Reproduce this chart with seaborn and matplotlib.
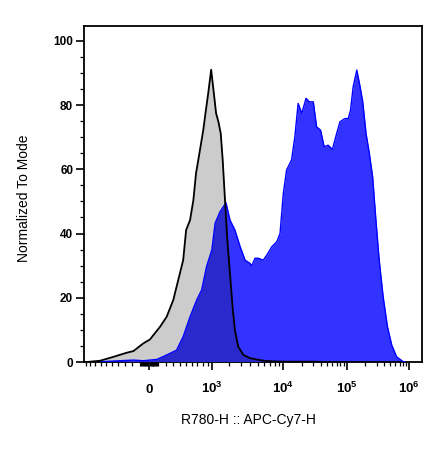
import numpy as np
import seaborn as sns
import matplotlib
matplotlib.use('Agg')
import matplotlib.pyplot as plt
from matplotlib.ticker import FixedLocator, FixedFormatter


## DATA  (x in display channels, 0-1024 across the plot; y normalized to mode)
ctrl_channel = [7, 48, 88, 129, 149, 179, 199, 230, 250, 270, 285, 300, 309, 321,
                331, 339, 351, 361, 369, 376, 385, 392, 400, 407, 414, 420, 427,
                434, 442, 450, 457, 467, 483, 503, 533, 554, 604, 705, 720]
ctrl_mode = [0, 0.4, 1.6, 2.9, 3.4, 5.8, 7.0, 11.0, 14.1, 19.3, 25.5, 31.7, 41.1, 44.2,
             50.4, 58.7, 66.0, 72.2, 78.4, 83.6, 91.0, 84.7, 77.4, 74.8, 71.2, 62.9, 50.4,
             38.0, 27.6, 17.2, 10.0, 4.8, 2.2, 1.2, 0.6, 0.3, 0.1, 0.1, 0]

stain_channel = [48, 68, 149, 179, 220, 250, 280, 300, 321, 341, 356, 371, 387, 397,
                 412, 430, 442, 457, 473, 488, 503, 508, 518, 528, 543, 554, 569, 584,
                 594, 604, 614, 629, 639, 649, 660, 673, 683, 695, 705, 717, 728, 740,
                 753, 766, 776, 791, 801, 808, 816, 827, 837, 845, 855, 865, 875, 885,
                 895, 907, 920, 933, 948, 968, 975]
stain_mode = [0, 0.2, 0.6, 0.4, 0.8, 2.2, 3.7, 7.9, 14.1, 19.3, 22.4, 29.7, 34.9, 43.2,
              46.8, 49.6, 44.2, 41.1, 35.9, 31.7, 30.7, 29.9, 32.3, 32.3, 31.7, 33.3, 35.9, 37.4,
              40.0, 52.5, 59.8, 62.9, 70.1, 80.5, 77.4, 82.1, 81.0, 81.0, 73.2, 72.2, 67.0, 67.5,
              66.2, 71.2, 74.8, 75.8, 75.8, 78.4, 85.7, 90.9, 85.7, 81.0, 71.2, 65.0, 57.7, 44.2,
              31.7, 20.3, 11.0, 5.3, 1.6, 0.1, 0]

## BIEX AXIS CALIBRATION (value -> display channel)
calib_values = [-1e4, -1e3, 0, 1e3, 1e4, 1e5, 1e6, 1e7]
calib_channels = [-211, 4.3, 196.4, 388.5, 604, 796.4, 986.4, 1176]

major_values = [0, 1e3, 1e4, 1e5, 1e6]
major_labels = [r'$\mathbf{0}$', r'$\mathbf{10^3}$', r'$\mathbf{10^4}$',
                r'$\mathbf{10^5}$', r'$\mathbf{10^6}$']
minor_values = ([-1000] + [-v for v in range(100, 1000, 100)] + [-v for v in range(10, 100, 10)]
                + list(range(10, 100, 10)) + list(range(100, 1000, 100))
                + [m * 10 ** k for k in (3, 4, 5) for m in range(2, 10)])


def biex(v):
    s = lambda a: np.sign(a) * np.log10(1 + np.abs(a) / 1000.)
    return np.interp(s(np.asarray(v, float)), s(np.asarray(calib_values)), calib_channels)


## SET STYLE
sns.set_style('ticks', rc={'axes.edgecolor': 'black', 'xtick.color': 'black',
                           'ytick.color': 'black', 'text.color': 'black',
                           'axes.labelcolor': 'black'})
plt.rcParams['font.family'] = ['Liberation Sans', 'DejaVu Sans']
plt.rcParams['mathtext.fontset'] = 'custom'
plt.rcParams['mathtext.rm'] = 'Liberation Sans'
plt.rcParams['mathtext.bf'] = 'Liberation Sans:bold'

fig = plt.figure(figsize=(4.38, 4.54), dpi=100)
ax = fig.add_axes([0.1925, 0.2026, 0.7703, 0.7408])

## FILLS
gray_fill = ax.fill_between(ctrl_channel, ctrl_mode, 0, color='#cccccc', lw=0, zorder=1)
ax.fill_between(stain_channel, stain_mode, 0, color='#3333ff', lw=0, zorder=2)
overlap = ax.fill_between(stain_channel, stain_mode, 0, color='#2929cc', lw=0, zorder=3)
overlap.set_clip_path(gray_fill.get_paths()[0], ax.transData)

## OUTLINES
sns.lineplot(x=stain_channel, y=stain_mode, color='#0000ff', lw=1.0, ax=ax,
             sort=False, estimator=None, zorder=4)
sns.lineplot(x=ctrl_channel, y=ctrl_mode, color='black', lw=1.3, ax=ax,
             sort=False, estimator=None, zorder=5)

ax.set_xlim(0, 1024)
ax.set_ylim(0, 104.7)

ax.xaxis.set_major_locator(FixedLocator(biex(major_values)))
ax.xaxis.set_major_formatter(FixedFormatter(major_labels))
ax.xaxis.set_minor_locator(FixedLocator(biex(minor_values)))
ax.yaxis.set_major_locator(FixedLocator([0, 20, 40, 60, 80, 100]))
ax.yaxis.set_minor_locator(FixedLocator(np.arange(5, 100, 5)))

for s in ax.spines.values():
    s.set_linewidth(1.3)
ax.tick_params(axis='both', which='major', length=6, width=1.2, labelsize=8.5, direction='out')
ax.tick_params(axis='both', which='minor', length=3, width=0.9, direction='out')
ax.tick_params(axis='x', which='major', pad=16.5, labelsize=9.5)
ax.tick_params(axis='y', which='major', pad=2)
for lab in ax.get_xticklabels():
    lab.set_va('baseline')
for lab in ax.get_yticklabels():
    lab.set_fontweight('bold')

ax.set_xlabel('R780-H :: APC-Cy7-H', fontsize=10)
ax.set_ylabel('Normalized To Mode', fontsize=10)
ax.xaxis.set_label_coords(0.486, -0.151)
ax.yaxis.set_label_coords(-0.158, 0.487)

fig.savefig('out.png', dpi=100)
